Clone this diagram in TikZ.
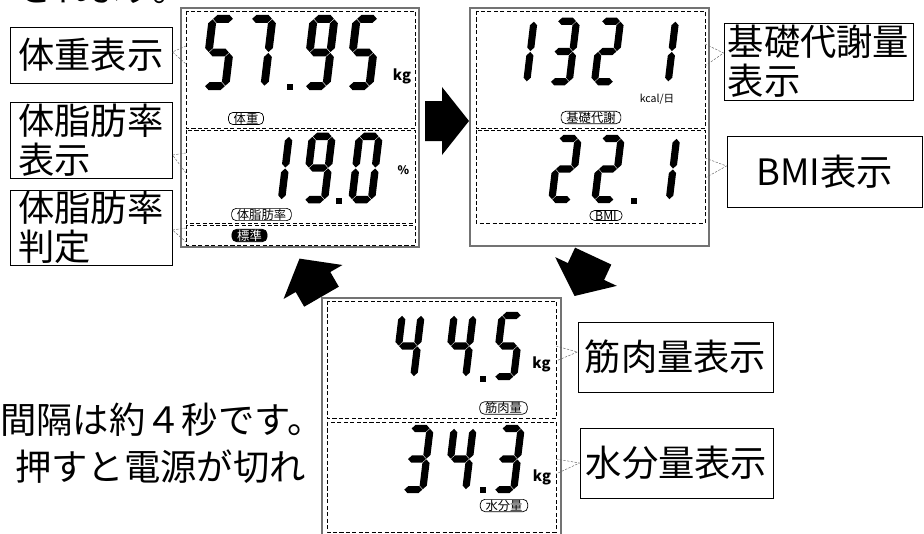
\documentclass[tikz,border=0pt]{standalone}
\usepackage{fontspec}
\setmainfont{Noto Sans CJK JP}
\newfontfamily\propjp[RawFeature=+palt]{Noto Sans CJK JP}
% seven-segment pieces, (x,y) = start of the segment
\newcommand{\hseg}[2]{\fill (#1,#2) ++(0.5,0) -- ++(4,-4) -- ++(12,0) -- ++(4,4) -- ++(-4,4) -- ++(-12,0) -- cycle;}
\newcommand{\vseg}[2]{\fill (#1,#2) ++(0,0.5) -- ++(4,4) -- ++(0,25) -- ++(-4,4) -- ++(-4,-4) -- ++(0,-25) -- cycle;}
% digit: centre x, centre y, scale, segments (0=a,1=b,2=c,3=d,4=e,5=f,6=g)
\newcommand{\lcddigit}[4]{%
  \begin{scope}[shift={(#1,#2)}, scale=#3, xslant=0.12]
    \foreach \s in {#4}{%
      \ifcase\s\relax \hseg{-10.5}{-34}%
      \or \vseg{10.5}{-34}%
      \or \vseg{10.5}{0}%
      \or \hseg{-10.5}{34}%
      \or \vseg{-10.5}{0}%
      \or \vseg{-10.5}{-34}%
      \or \hseg{-10.5}{0}%
      \fi}
  \end{scope}}
\newcommand{\lcddot}[2]{\fill (#1,#2) ++(-3,-3) rectangle ++(6,6);}
\begin{document}
\begin{tikzpicture}[x=0.03cm, y=-0.03cm,
        panel/.style={draw=black!55, line width=1.2pt},
        sect/.style={draw, line width=0.6pt, dash pattern=on 3.5pt off 2pt},
        lbl/.style={draw, line width=0.8pt, inner sep=0pt, align=left, font=\fontsize{31}{33}\selectfont},
        tag/.style={draw, rounded corners=4pt, line width=0.6pt, inner xsep=4.5pt, inner ysep=0.4pt, font=\fontsize{10.5}{11}\selectfont},
        unit/.style={inner sep=0pt, font=\fontsize{12.5}{13}\selectfont\bfseries},
        callout/.style={draw=black!60, line width=0.4pt, dash pattern=on 2pt off 1.2pt},
        body/.style={inner sep=0pt, font=\fontsize{31}{33}\selectfont},
        bigarrow/.pic={\fill (-17,-20) -- (0,-20) -- (0,-34) -- (27,0) -- (0,34) -- (0,20) -- (-17,20) -- cycle;}
    ]
        \useasboundingbox (0,0) rectangle (924,534);

        % === text cut by the frame ===
        \node[body, anchor=base west] (top) at (20,1.5) {\propjp されます。};
        \node[body, anchor=west] (line1) at (0,420) {間隔は約４秒です。};
        \node[body, anchor=east] (line2) at (306,467) {押すと電源が切れ};

        % === panel 1: weight, body fat ===
        \draw[panel] (181,8) rectangle (419,247);
        \draw[sect] (186,11) rectangle (415,128);
        \draw[sect] (186,130) rectangle (415,223);
        \draw[sect] (186,225) rectangle (415,245);

        \lcddigit{219}{52.5}{0.99}{0,5,6,2,3}
        \lcddigit{258}{52.5}{0.99}{0,1,2}
        \lcddot{290}{87}
        \lcddigit{320}{52.5}{0.99}{0,1,2,3,5,6}
        \lcddigit{363}{52.5}{0.99}{0,5,6,2,3}
        \node[unit] (kg1) at (402,76) {kg};
        \node[tag] (t1) at (246,118.5) {体重};

        \lcddigit{275.5}{168}{0.93}{1,2}
        \lcddigit{318.5}{168}{0.93}{0,1,2,3,5,6}
        \lcddot{339}{201}
        \lcddigit{365.5}{168}{0.93}{0,1,2,3,4,5}
        \node[inner sep=0pt, font=\fontsize{10}{11}\selectfont\bfseries] (pc) at (403.5,170) {\%};
        \node[tag] (t2) at (261.5,214.5) {体脂肪率};
        \node[tag, fill=black, text=white] (t3) at (249.5,235.5) {標準};

        % === panel 2: basal metabolism, BMI ===
        \draw[panel] (470,8) rectangle (709,246);
        \draw[sect] (476,11) rectangle (705,128);
        \draw[sect] (476,130) rectangle (705,223);

        \lcddigit{521}{51.5}{0.89}{1,2}
        \lcddigit{563.5}{51.5}{0.89}{0,1,6,2,3}
        \lcddigit{607.5}{51.5}{0.89}{0,1,6,4,3}
        \lcddigit{662.5}{51.5}{0.89}{1,2}
        \node[inner sep=0pt, font=\fontsize{9}{10}\selectfont] (kcal) at (657,99) {kcal/日};
        \node[tag] (t4) at (591,117.5) {基礎代謝};

        \lcddigit{565}{169}{0.9}{0,1,6,4,3}
        \lcddigit{608}{169}{0.9}{0,1,6,4,3}
        \lcddot{633.5}{201}
        \lcddigit{663.5}{169}{0.9}{1,2}
        \node[tag] (t5) at (606,215.5) {BMI};

        % === panel 3: muscle, water ===
        \draw[panel] (322,298) rectangle (561,545);
        \draw[sect] (327,301) rectangle (556,418);
        \draw[sect] (327,422) rectangle (556,532);

        \lcddigit{408}{346}{0.9}{5,6,1,2}
        \lcddigit{460}{346}{0.9}{5,6,1,2}
        \lcddot{482.5}{379}
        \lcddigit{508}{346}{0.9}{0,5,6,2,3}
        \node[unit] (kg2) at (541.5,364) {kg};
        \node[tag] (t6) at (503.5,408) {筋肉量};

        \lcddigit{417}{459}{0.9}{0,1,6,2,3}
        \lcddigit{460}{459}{0.9}{5,6,1,2}
        \lcddot{482.5}{490}
        \lcddigit{508}{459}{0.9}{0,1,6,2,3}
        \node[unit] (kg3) at (542,477) {kg};
        \node[tag] (t7) at (504,505.5) {水分量};

        % === labels ===
        \node[lbl, minimum width=4.86cm, minimum height=1.68cm] (wt) at (91,55) {体重表示};
        \node[lbl, minimum width=4.86cm, minimum height=2.28cm] (bf) at (91,140) {体脂肪率\\表示};
        \node[lbl, minimum width=4.86cm, minimum height=2.25cm] (jd) at (91,227.5) {体脂肪率\\判定};
        \node[lbl, minimum width=5.67cm, minimum height=2.31cm] (bm) at (818.5,61.5) {基礎代謝量\\表示};
        \node[lbl, minimum width=5.85cm, minimum height=2.13cm] (bmi) at (824.5,171.5) {BMI表示};
        \node[lbl, minimum width=5.85cm, minimum height=2.1cm] (mu) at (675.5,357) {筋肉量表示};
        \node[lbl, minimum width=5.79cm, minimum height=2.1cm] (wa) at (676.5,463) {水分量表示};

        % === callouts ===
        \coordinate (wtA) at (186,46);  \coordinate (wtB) at (186,64);
        \coordinate (bfA) at (186,153); \coordinate (bfB) at (186,173);
        \coordinate (jdA) at (186,228); \coordinate (jdB) at (186,242);
        \coordinate (bmA) at (705,44);  \coordinate (bmB) at (705,66);
        \coordinate (bmiA) at (705,158); \coordinate (bmiB) at (705,178);
        \coordinate (muA) at (556,346); \coordinate (muB) at (556,361);
        \coordinate (waA) at (556,459); \coordinate (waB) at (556,474);
        \draw[callout] (wtA) -- (wt.east |- 0,52) -- (wtB);
        \draw[callout] (bfA) -- (bf.east |- 0,155) -- (bfB);
        \draw[callout] (jdA) -- (jd.east |- 0,230) -- (jdB);
        \draw[callout] (bmA) -- (bm.west |- 0,53) -- (bmB);
        \draw[callout] (bmiA) -- (bmi.west |- 0,166) -- (bmiB);
        \draw[callout] (muA) -- (mu.west |- 0,352) -- (muB);
        \draw[callout] (waA) -- (wa.west |- 0,463) -- (waB);

        % === cycle arrows ===
        \pic at (442,121) {bigarrow};
        \pic[rotate=245] at (586,271.5) {bigarrow};
        \pic[rotate=120] at (313,282) {bigarrow};
    \end{tikzpicture}
\end{document}
